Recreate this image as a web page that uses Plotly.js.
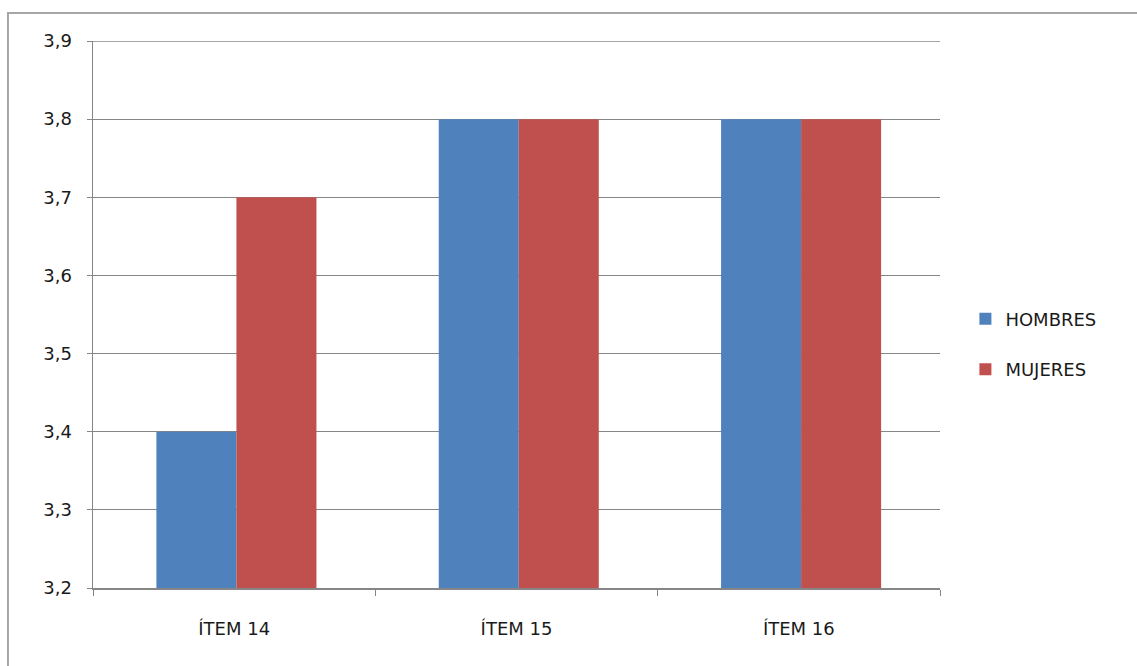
<!DOCTYPE html>
<html><head><meta charset="utf-8">
<script src="https://cdn.plot.ly/plotly-3.0.1.min.js"></script>
<style>html,body{margin:0;padding:0;background:#fff;}#chart{width:1137px;height:666px;}</style>
</head><body><div id="chart"></div>
<script>
const categories = ['ÍTEM 14', 'ÍTEM 15', 'ÍTEM 16'];
const hombres = [3.4, 3.8, 3.8];
const mujeres = [3.7, 3.8, 3.8];
const seriesNames = ['HOMBRES', 'MUJERES'];
const yTicks = [3.2, 3.3, 3.4, 3.5, 3.6, 3.7, 3.8, 3.9];

function mkFont() { return {family: 'DejaVu Sans, sans-serif', size: 18, color: '#1a1a1a'}; }
const barW = 0.2834;
const data = [
  {type: 'bar', x: categories, y: hombres, name: seriesNames[0], marker: {color: '#4F81BD'}, legendgroup: 'a', width: barW, offset: -barW + 0.008},
  {type: 'bar', x: categories, y: mujeres, name: seriesNames[1], marker: {color: '#C0504D'}, legendgroup: 'b', width: barW, offset: 0.008}
];
const layout = {
  width: 1137, height: 666,
  margin: {l: 93, r: 197, t: 41, b: 78},
  separators: ',.',
  font: mkFont(),
  barmode: 'overlay',
  paper_bgcolor: '#fff', plot_bgcolor: '#fff',
  xaxis: {
    type: 'category', showline: true, linecolor: '#868686', linewidth: 1.5,
    ticks: 'outside', tickson: 'boundaries', ticklen: 6, tickcolor: '#868686',
    showgrid: false, ticklabelstandoff: 24, tickfont: mkFont()
  },
  yaxis: {
    range: [3.2, 3.9], tickvals: yTicks, tickformat: '.1f',
    showline: true, linecolor: '#868686', linewidth: 1.5,
    ticks: 'outside', ticklen: 5, tickcolor: '#868686',
    showgrid: true, gridcolor: '#868686', gridwidth: 1,
    zeroline: false, ticklabelstandoff: 11, tickfont: mkFont()
  },
  showlegend: true,
  legend: {x: 1.03, y: 0.446, yanchor: 'middle', xanchor: 'left', traceorder: 'grouped', tracegroupgap: 24, font: mkFont(), itemwidth: 30},
  shapes: [
    {type: 'rect', xref: 'paper', yref: 'paper', x0: -0.1004, x1: 1.24, y0: -0.16, y1: 1.0512, line: {color: '#A6A6A6', width: 2}},
    {type: 'line', xref: 'paper', yref: 'y', x0: 0, x1: 1, y0: yTicks[yTicks.length - 1], y1: yTicks[yTicks.length - 1], line: {color: '#868686', width: 1.5}}
  ]
};
Plotly.newPlot('chart', data, layout, {displayModeBar: false, staticPlot: true});
</script></body></html>
